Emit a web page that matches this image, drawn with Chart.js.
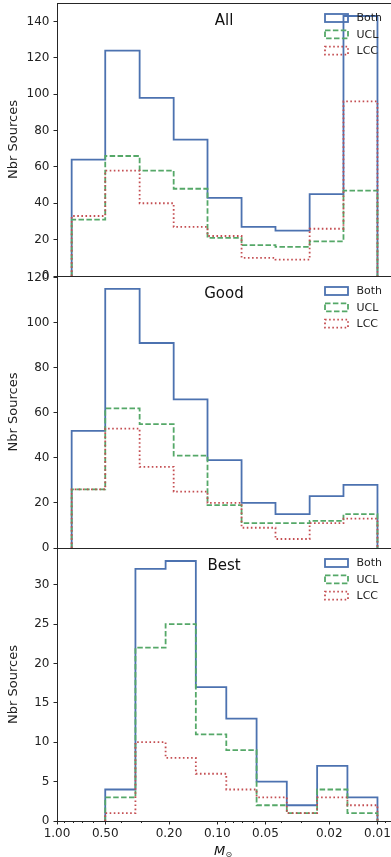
<!DOCTYPE html>
<html>
<head>
<meta charset="utf-8">
<title>Nbr Sources by mass</title>
<script src="https://cdn.jsdelivr.net/npm/chart.js@4.4.1/dist/chart.umd.min.js"></script>
<style>
  html, body { margin: 0; padding: 0; background: #fff; }
  #wrap { position: relative; width: 391px; height: 857px; overflow: hidden; }
  #wrap canvas { position: absolute; left: 0; }
</style>
</head>
<body>
<div id="wrap">
  <canvas id="panelAll"></canvas>
  <canvas id="panelGood"></canvas>
  <canvas id="panelBest"></canvas>
</div>
<script>
// bin edges in solar masses, high to low
const edgesWide = [0.81, 0.50, 0.305, 0.187, 0.115, 0.0705, 0.0433, 0.0265, 0.0163, 0.010];
const edgesBest = [0.50, 0.324, 0.210, 0.136, 0.0878, 0.0568, 0.0368, 0.0238, 0.0154, 0.010];

const allBoth = [64, 124, 98, 75, 43, 27, 25, 45, 143];
const allUCL  = [31, 66, 58, 48, 21, 17, 16, 19, 47];
const allLCC  = [33, 58, 40, 27, 22, 10, 9, 26, 96];

const goodBoth = [52, 115, 91, 66, 39, 20, 15, 23, 28];
const goodUCL  = [26, 62, 55, 41, 19, 11, 11, 12, 15];
const goodLCC  = [26, 53, 36, 25, 20, 9, 4, 11, 13];

const bestBoth = [4, 32, 33, 17, 13, 5, 2, 7, 3];
const bestUCL  = [3, 22, 25, 11, 9, 2, 1, 4, 1];
const bestLCC  = [1, 10, 8, 6, 4, 3, 1, 3, 2];

const seriesNames = ['Both', 'UCL', 'LCC'];
const massTicks = [1.0, 0.5, 0.2, 0.1, 0.05, 0.02, 0.01];
const massMinor = [0.9, 0.8, 0.7, 0.6, 0.4, 0.3, 0.09, 0.08, 0.07, 0.06, 0.04, 0.03, 0.009];

const lineStyles = [
    { color: '#4c72b0', dash: [] },
    { color: '#55a868', dash: [5.5, 2.4] },
    { color: '#c44e52', dash: [1.6, 2.5] }
];

Chart.defaults.font.family = 'DejaVu Sans';
Chart.defaults.color = '#222';

// open outline of a histogram, like histtype='step'
function stepOutline(edges, counts) {
    const pts = [{ x: edges[0], y: 0 }];
    counts.forEach((c, i) => {
        pts.push({ x: edges[i], y: c });
        pts.push({ x: edges[i + 1], y: c });
    });
    pts.push({ x: edges[edges.length - 1], y: 0 });
    return pts;
}

// frame, panel name, legend and the mass axis extras
const panelDecor = {
    id: 'panelDecor',
    afterDatasetsDraw(chart, args, opts) {
        const { ctx, chartArea: a } = chart;
        ctx.save();
        ctx.strokeStyle = '#262626';
        ctx.lineWidth = 1;
        ctx.strokeRect(a.left + 0.5, a.top + 0.5, a.right - a.left, a.bottom - a.top);

        ctx.fillStyle = '#111';
        ctx.font = '15px "DejaVu Sans"';
        ctx.textAlign = 'center';
        ctx.textBaseline = 'alphabetic';
        ctx.fillText(opts.name, (a.left + a.right) / 2 - 1, a.top + 22);

        // legend boxes
        chart.data.datasets.forEach((ds, i) => {
            const bx = a.right - 68;
            const by = a.top + 11 + i * 16.3;
            ctx.strokeStyle = ds.borderColor;
            ctx.lineWidth = ds.borderWidth;
            ctx.setLineDash(ds.borderDash);
            ctx.strokeRect(bx, by, 23, 8);
            ctx.setLineDash([]);
            ctx.fillStyle = '#222';
            ctx.font = '11px "DejaVu Sans"';
            ctx.textAlign = 'left';
            ctx.textBaseline = 'middle';
            ctx.fillText(ds.label, bx + 31.5, by + 4.5);
        });

        if (opts.massAxis) {
            const xs = chart.scales.x;
            ctx.strokeStyle = '#262626';
            ctx.lineWidth = 1;
            massMinor.forEach(v => {
                const px = Math.round(xs.getPixelForValue(v)) + 0.5;
                ctx.beginPath();
                ctx.moveTo(px, a.bottom);
                ctx.lineTo(px, a.bottom + 2);
                ctx.stroke();
            });
            const cx = (a.left + a.right) / 2;
            ctx.fillStyle = '#111';
            ctx.textAlign = 'left';
            ctx.textBaseline = 'alphabetic';
            ctx.font = 'italic 13px "DejaVu Sans"';
            ctx.fillText('M', cx - 11, a.bottom + 34);
            ctx.font = '8px "DejaVu Sans"';
            ctx.fillText('\u2299', cx + 0.5, a.bottom + 36);
        }
        ctx.restore();
    }
};

function makePanel(id, p) {
    const canvas = document.getElementById(id);
    const extraBottom = p.massAxis ? 36 : 20;
    canvas.width = 420;
    canvas.height = 20 + p.height + extraBottom;
    canvas.style.top = (p.top - 20) + 'px';

    const datasets = p.series.map((counts, i) => ({
        label: seriesNames[i],
        data: stepOutline(p.edges, counts),
        borderColor: lineStyles[i].color,
        borderDash: lineStyles[i].dash,
        borderWidth: 1.8,
        borderJoinStyle: 'miter',
        pointRadius: 0,
        fill: false,
        tension: 0,
        order: 3 - i
    }));

    return new Chart(canvas.getContext('2d'), {
        type: 'line',
        data: { datasets: datasets },
        plugins: [panelDecor],
        options: {
            responsive: false,
            animation: false,
            events: [],
            layout: { padding: { top: 20, bottom: p.massAxis ? 0 : 20, left: 0, right: 27 } },
            plugins: {
                legend: { display: false },
                tooltip: { enabled: false },
                panelDecor: { name: p.name, massAxis: p.massAxis }
            },
            scales: {
                x: {
                    type: 'logarithmic',
                    reverse: true,
                    min: 0.008,
                    max: 1.0,
                    display: p.massAxis,
                    afterBuildTicks: s => { s.ticks = massTicks.map(v => ({ value: v })); },
                    afterFit: s => {
                        if (p.massAxis) s.height = 36;
                        s.paddingLeft = 0;
                        s.paddingRight = 0;
                    },
                    ticks: {
                        callback: v => Number(v).toFixed(2),
                        autoSkip: false,
                        maxRotation: 0,
                        padding: 2,
                        font: { size: 12 },
                        color: '#222'
                    },
                    grid: { drawOnChartArea: false, tickLength: 3.5, color: '#262626' },
                    border: { display: false }
                },
                y: {
                    min: 0,
                    max: p.yMax,
                    afterFit: s => {
                        s.width = 57;
                        s.paddingTop = 0;
                        s.paddingBottom = 0;
                    },
                    ticks: {
                        stepSize: p.yStep,
                        includeBounds: false,
                        padding: 4,
                        font: { size: 12 },
                        color: '#222'
                    },
                    grid: { drawOnChartArea: false, tickLength: 3.5, color: '#262626' },
                    border: { display: false },
                    title: {
                        display: true,
                        text: 'Nbr Sources',
                        font: { size: 13 },
                        color: '#222',
                        padding: { top: 5.5, bottom: 0 }
                    }
                }
            }
        }
    });
}

makePanel('panelAll', {
    name: 'All', top: 3, height: 273, yMax: 150.15, yStep: 20,
    edges: edgesWide, series: [allBoth, allUCL, allLCC], massAxis: false
});
makePanel('panelGood', {
    name: 'Good', top: 276, height: 272, yMax: 120.75, yStep: 20,
    edges: edgesWide, series: [goodBoth, goodUCL, goodLCC], massAxis: false
});
makePanel('panelBest', {
    name: 'Best', top: 548, height: 273, yMax: 34.65, yStep: 5,
    edges: edgesBest, series: [bestBoth, bestUCL, bestLCC], massAxis: true
});
</script>
</body>
</html>
